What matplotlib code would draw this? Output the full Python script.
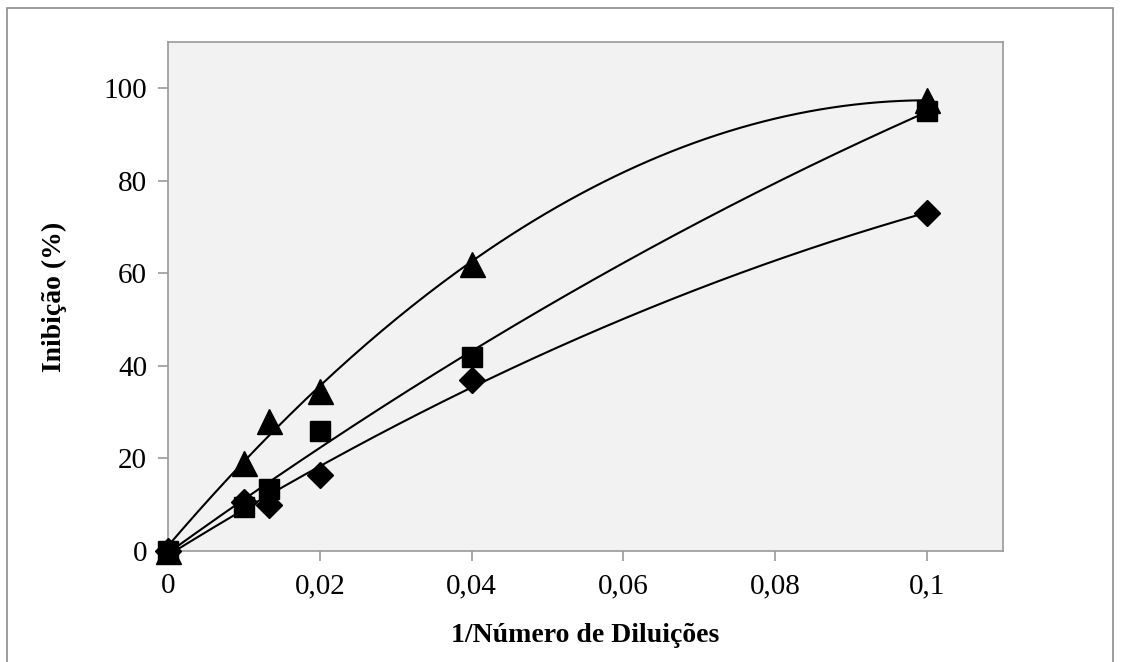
import numpy as np
import matplotlib
matplotlib.use("Agg")
import matplotlib.pyplot as plt
from matplotlib.patches import Rectangle

x = [0, 0.01, 0.0133, 0.02, 0.04, 0.1]
triangles = [0, 19, 28, 34.5, 62, 97.5]
squares = [0, 9.5, 13.5, 26, 42, 95]
diamonds = [0, 10.5, 10, 16.5, 37, 73]
xticks = [0, 0.02, 0.04, 0.06, 0.08, 0.1]
xticklabels = ["0", "0,02", "0,04", "0,06", "0,08", "0,1"]
yticks = [0, 20, 40, 60, 80, 100]

plt.rcParams['font.family'] = ['Liberation Serif', 'DejaVu Serif']

W, H = 1121, 662
fig = plt.figure(figsize=(W / 100, H / 100), dpi=100)
fig.patches.append(Rectangle((7 / W, -0.01), (1113 - 7) / W, 1 - 8 / H + 0.01,
                             transform=fig.transFigure, fill=False,
                             edgecolor='#8c8c8c', linewidth=1.2))
ax = fig.add_axes([168 / W, 1 - 551 / H, (1003 - 168) / W, (551 - 42) / H])
ax.set_facecolor('#f2f2f2')
ax.set_xlim(0, 0.11)
ax.set_ylim(0, 110)

xs = np.linspace(0, 0.1, 200)
for data, marker, ms in [(triangles, '^', 18), (squares, 's', 14), (diamonds, 'D', 13.5)]:
    c = np.polyfit(x, data, 2)
    ax.plot(xs, np.polyval(c, xs), color='black', linewidth=1.5, zorder=2)
    ax.plot(x, data, linestyle='none', marker=marker, markersize=ms,
            color='black', zorder=3, clip_on=False)

ax.set_xticks(xticks)
ax.set_xticklabels(xticklabels)
ax.set_yticks(yticks)
for s in ax.spines.values():
    s.set_color('#999999')
    s.set_linewidth(1.2)
ax.tick_params(axis='both', labelsize=21, color='#999999', length=7, width=1.2)
ax.tick_params(axis='x', direction='out', pad=9)
ax.tick_params(axis='y', direction='out', pad=8)
ax.set_xlabel('1/Número de Diluições', fontsize=20, fontweight='bold', labelpad=17)
ax.set_ylabel('Inibição (%)', fontsize=20, fontweight='bold', labelpad=26)

fig.savefig('out.png', dpi=100)
